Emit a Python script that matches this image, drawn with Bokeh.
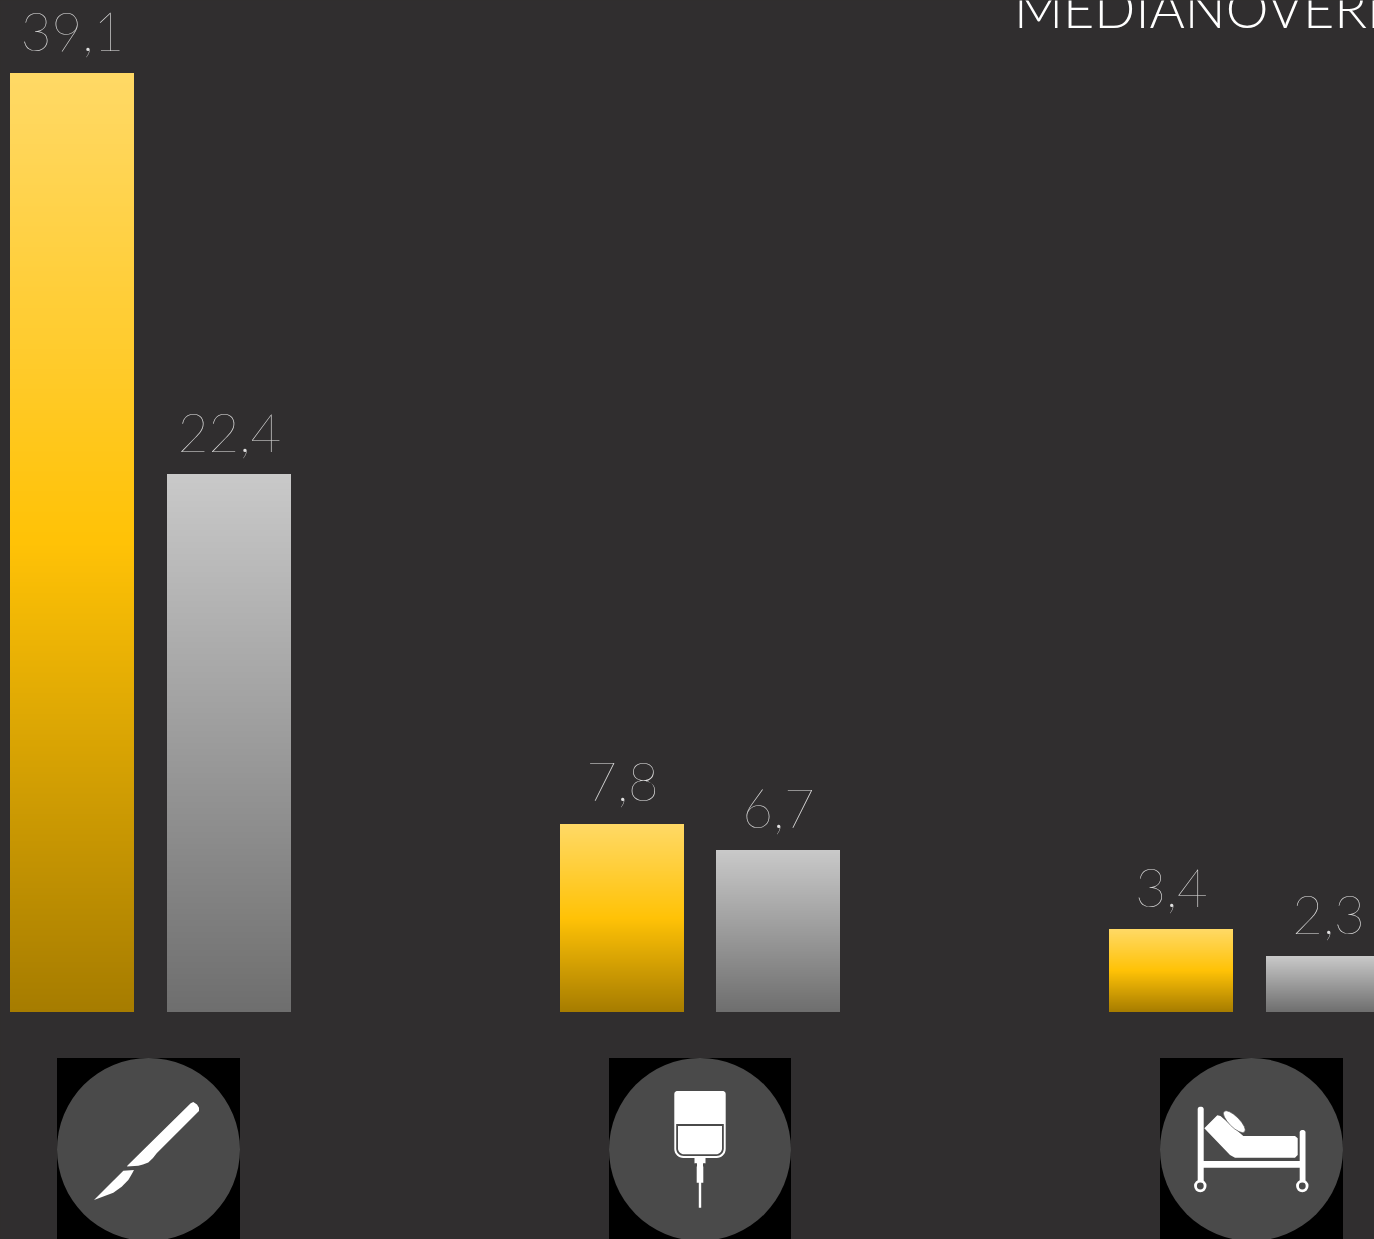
import math
from bokeh.plotting import figure
from bokeh.models import Range1d, ColumnDataSource
from bokeh.core.properties import value
from bokeh.embed import file_html
from bokeh.resources import INLINE

# ---- data ----
yellow_values = [39.1, 7.83, 3.44]
grey_values = [22.4, 6.74, 2.33]
title_text = "MEDIANOVERLEVELSE"

# ---- layout ----
W, H = 1374, 1239
BASE, SCALE = 1012, 24.015
BAR_W = 124
yellow_left = [10, 560, 1109]
grey_left = [167, 716, 1266]
icon_cx = [148.5, 700, 1251.5]
icon_half = [91.5, 91, 91.5]
BG = "#302e2f"
YELLOW_STOPS = [(0, (255, 217, 102)), (0.5, (255, 194, 6)), (1, (166, 124, 0))]
GREY_STOPS = [(0, (201, 201, 201)), (1, (110, 110, 110))]

# Ranges are shifted half a pixel so that whole-pixel edges stay crisp.
top = (BASE - 0.5) / SCALE
p = figure(width=W, height=H, output_backend="svg", toolbar_location=None,
           x_range=Range1d(0.5, W + 0.5),
           y_range=Range1d(top - H / SCALE, top),
           min_border=0, outline_line_color=None,
           background_fill_color=BG, border_fill_color=BG)
p.axis.visible = False
p.grid.visible = False
p.extra_y_ranges = {"px": Range1d(H + 0.5, 0.5)}


def grad(stops, t):
    for (t0, c0), (t1, c1) in zip(stops, stops[1:]):
        if t <= t1:
            f = (t - t0) / (t1 - t0)
            return "#%02x%02x%02x" % tuple(round(a + (b - a) * f) for a, b in zip(c0, c1))
    return "#%02x%02x%02x" % stops[-1][1]


def bar(left, val, stops):
    """One gradient bar, as a stack of bands one pixel tall, up to the value."""
    n = max(1, round(val * SCALE))
    lefts, rights, bottoms, tops, cols = [], [], [], [], []
    for i in range(n):
        t = (i + 0.5) / n
        lefts.append(left)
        rights.append(left + BAR_W)
        tops.append((n - i) / SCALE)
        bottoms.append(max(0, (n - i - 1.4) / SCALE))
        cols.append(grad(stops, t))
    p.quad(left=lefts, right=rights, bottom=bottoms, top=tops, fill_color=cols, line_color=None)


for l, v in zip(yellow_left, yellow_values):
    bar(l, v, YELLOW_STOPS)
for l, v in zip(grey_left, grey_values):
    bar(l, v, GREY_STOPS)

all_left = yellow_left + grey_left
all_vals = yellow_values + grey_values
labels = ColumnDataSource(dict(
    x=[l + BAR_W / 2 + 0.5 for l in all_left],
    y=all_vals,
    t=[f"{v:.1f}".replace(".", ",") for v in all_vals],
))
p.text(x="x", y="y", text="t", source=labels, text_font=value("Lato Hairline"),
       text_font_size="53px", text_color="#e0e0e0", text_align="center",
       text_baseline="alphabetic", y_offset=-41.5)

p.text(x=[1014], y=[7], text=[title_text], y_range_name="px", text_font=value("Lato Light"),
       text_font_size="54px", text_color="#ffffff", text_align="left", text_baseline="alphabetic")

# ---- icons (pixel coordinates on the "px" range) ----
WHITE, DISC = "#ffffff", "#4a4a4a"
for cx, half in zip(icon_cx, icon_half):
    p.quad(left=[cx - half], right=[cx + half], top=[1058], bottom=[1245],
           fill_color="#000000", line_color=None, y_range_name="px")
    p.ellipse(x=[cx], y=[1149.5], width=2 * half, height=183, width_units="screen", height_units="screen",
              fill_color=DISC, line_color=None, y_range_name="px")


def poly(xs, ys, color=WHITE):
    p.patch(xs, ys, fill_color=color, line_color=None, y_range_name="px")


def rrect(x0, y0, x1, y1, rt, rb, color=WHITE):
    xs, ys = [], []
    corners = [(x1 - rt, y0 + rt, rt, -90, 0), (x1 - rb, y1 - rb, rb, 0, 90),
               (x0 + rb, y1 - rb, rb, 90, 180), (x0 + rt, y0 + rt, rt, 180, 270)]
    for cx, cy, r, a0, a1 in corners:
        for k in range(9):
            a = math.radians(a0 + (a1 - a0) * k / 8)
            xs.append(cx + r * math.cos(a))
            ys.append(cy + r * math.sin(a))
    poly(xs, ys, color)


# scalpel
poly([127.5, 190.7, 193.3, 197, 199, 199, 156.7, 153, 148.3, 143, 138.3, 127],
     [1165.5, 1103.3, 1102, 1104.5, 1107.7, 1111, 1153.3, 1158, 1162.5, 1164.5, 1165.8, 1166.5])
poly([134, 123.3, 94, 113.3, 121.7, 128.3, 131.7],
     [1170, 1170.7, 1200, 1192.7, 1186.7, 1180, 1174.3])

# drip bag
rrect(674.3, 1091, 725.7, 1158, 3, 9)
rrect(676.2, 1124, 723.8, 1156, 0.1, 7.5, DISC)
rrect(678, 1126, 722, 1154.3, 0.1, 6)
rrect(694.5, 1157, 705.5, 1163.5, 0.1, 0.1)
rrect(696.7, 1163, 703.3, 1182.7, 0.1, 0.1)
rrect(698.8, 1163, 701.2, 1207.7, 0.1, 0.1)
p.quad(left=[694.5], right=[697], top=[1163.4], bottom=[1166.5], fill_color=DISC, line_color=None, y_range_name="px")
p.quad(left=[703], right=[705.5], top=[1163.4], bottom=[1166.5], fill_color=DISC, line_color=None, y_range_name="px")

# bed
rrect(1197.7, 1106.7, 1203.7, 1182, 2.5, 0.1)
rrect(1299.7, 1130, 1305.5, 1182, 2.5, 0.1)
rrect(1203, 1161, 1300, 1167.8, 0.1, 0.1)
poly([1204.3, 1217.3, 1220.5, 1243.3, 1295, 1297.7, 1297.7, 1295, 1235, 1230],
     [1128.3, 1115.3, 1116, 1136, 1136, 1138.3, 1155, 1157.7, 1157.7, 1155])
p.ellipse(x=[1234.3], y=[1121.7], width=29, height=10.5, angle=-math.pi / 4,
          width_units="screen", height_units="screen", fill_color=WHITE, line_color=DISC,
          line_width=0.6, y_range_name="px")
p.ellipse(x=[1200.3, 1302.3], y=[1186, 1186], width=9.6, height=9.6, width_units="screen", height_units="screen",
          fill_color=DISC, line_color=WHITE, line_width=2.8, y_range_name="px")

html = file_html(p, INLINE)
html = html.replace("</head>", f"<style>html,body{{margin:0;padding:0;background:{BG};overflow:hidden}}</style></head>", 1)
open("out.html", "w").write(html)
